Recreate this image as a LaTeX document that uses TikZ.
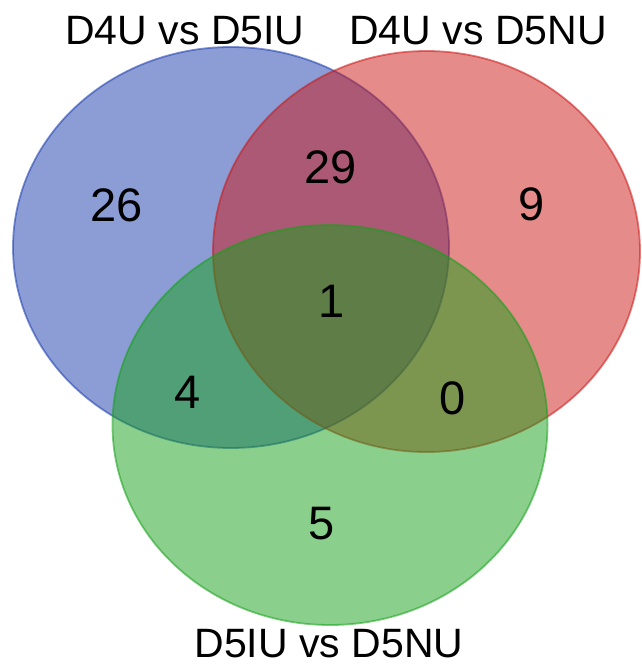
\documentclass[tikz,border=0pt]{standalone}
\usepackage{fontspec}
\setmainfont{Liberation Sans}
\definecolor{vblue}{RGB}{25,59,173}
\definecolor{vred}{RGB}{203,23,21}
\definecolor{vgreen}{RGB}{21,161,25}
\tikzset{
  venn/.style={fill=#1, fill opacity=0.5, draw=#1, draw opacity=0.55, line width=1.8pt},
  settitle/.style={anchor=base, inner sep=0pt, font=\fontsize{41}{49}\selectfont},
  count/.style={anchor=base, inner sep=0pt, font=\fontsize{47}{56}\selectfont}
}
\begin{document}
\begin{tikzpicture}[x=1pt, y=-1pt]
\useasboundingbox (0,0) rectangle (641,668);
\path[venn=vblue]  (231,247.5) ellipse [x radius=218pt, y radius=200.5pt];
\path[venn=vred]   (426.5,251.5) ellipse [x radius=213.5pt, y radius=200.5pt];
\path[venn=vgreen] (330,425) ellipse [x radius=217.5pt, y radius=200pt];
\node[settitle] (tA) at (185,45) {D4U vs D5IU};
\node[settitle] (tB) at (478,45) {D4U vs D5NU};
\node[settitle] (tC) at (329,657) {D5IU vs D5NU};
\node[count] (n26) at (117,222) {26};
\node[count] (n29) at (331,184) {29};
\node[count] (n9) at (532,220) {9};
\node[count] (n1) at (332,317) {1};
\node[count] (n4) at (188,408) {4};
\node[count] (n0) at (453,414) {0};
\node[count] (n5) at (322,539) {5};
\end{tikzpicture}
\end{document}
